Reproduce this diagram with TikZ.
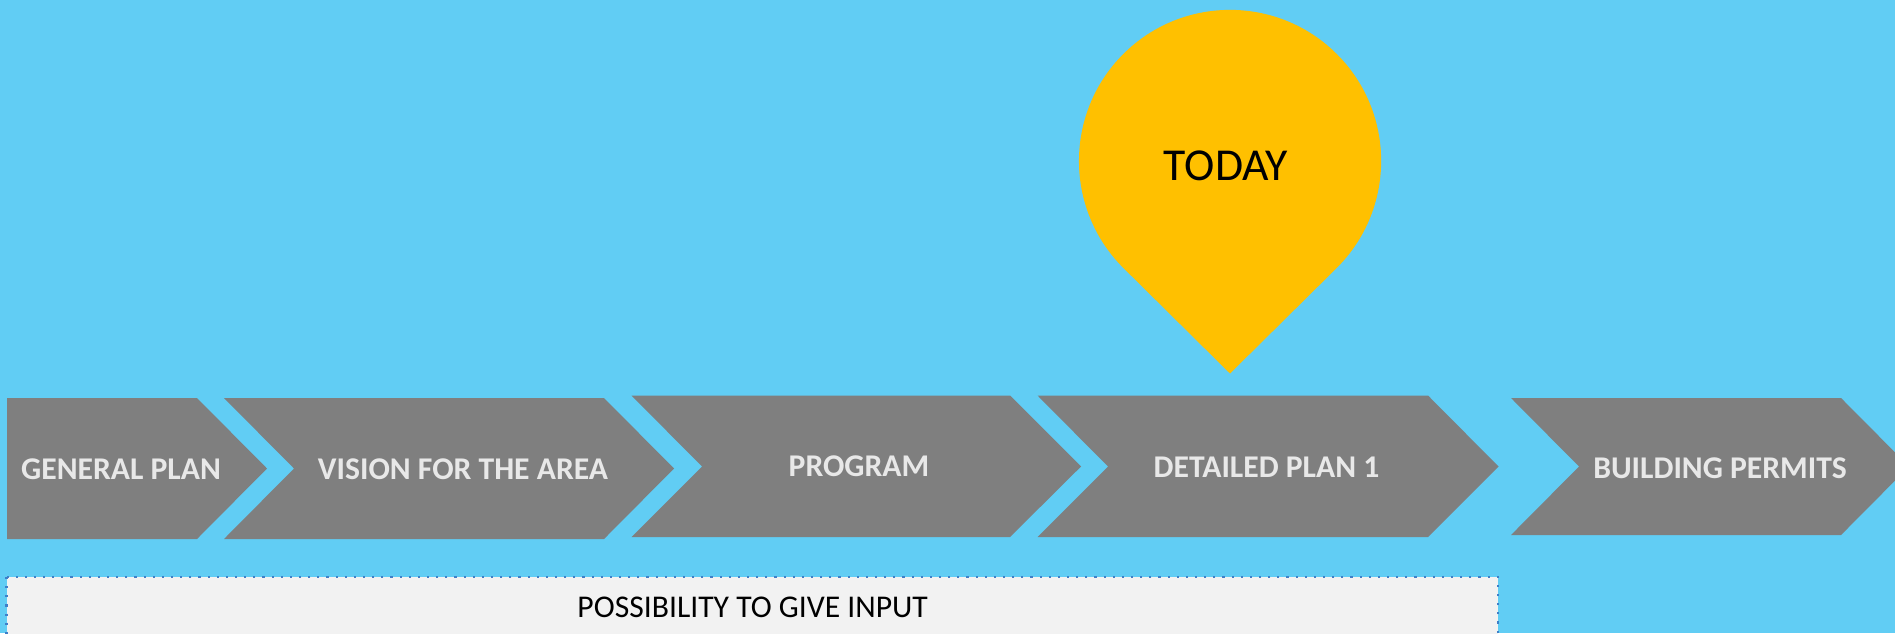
\documentclass[tikz,border=0pt]{standalone}
\usepackage{fontspec}
\setmainfont{Carlito}
\definecolor{sky}{HTML}{61CDF4}
\definecolor{chev}{HTML}{7F7F7F}
\definecolor{chevtext}{HTML}{E8E8E8}
\definecolor{pinyellow}{HTML}{FFC000}
\definecolor{inbox}{HTML}{F2F2F2}
\definecolor{inborder}{HTML}{3F7FC8}
\tikzset{
  chevfill/.style={fill=chev},
  chevlabel/.style={anchor=base, text=chevtext, font=\fontsize{9}{11}\selectfont\bfseries, inner sep=0pt},
  pinlabel/.style={anchor=base, text=black, font=\fontsize{13}{15}\selectfont, inner sep=0pt},
  inputlabel/.style={anchor=base, text=black, font=\fontsize{9}{11}\selectfont, inner sep=0pt}
}
\begin{document}
\begin{tikzpicture}[x=0.01cm, y=-0.01cm]
\useasboundingbox (0,0) rectangle (1895,633);
\clip (0,0) rectangle (1895,633);
\fill[sky] (0,0) rectangle (1895,633);

% chevrons
\fill[chevfill] (7,398) -- (197,398) -- (267,468.5) -- (197,539) -- (7,539) -- cycle;
\fill[chevfill] (224,398) -- (604,398) -- (674,468.5) -- (604,539) -- (224,539) -- (294,468.5) -- cycle;
\fill[chevfill] (631.5,395.5) -- (1010,395.5) -- (1081,466.5) -- (1010,537) -- (631.5,537) -- (702,466.5) -- cycle;
\fill[chevfill] (1037.5,395.5) -- (1428,395.5) -- (1498.5,466.5) -- (1428,537) -- (1037.5,537) -- (1108,466.5) -- cycle;
\fill[chevfill] (1511,398) -- (1841,398) -- (1909,466.5) -- (1841,535) -- (1511,535) -- (1579,466.5) -- cycle;

\node[chevlabel] (gp) at (121,479.3) {GENERAL PLAN};
\node[chevlabel] (vis) at (463,479) {VISION FOR THE AREA};
\node[chevlabel] (prog) at (859,476.7) {PROGRAM};
\node[chevlabel] (dp) at (1266.5,477.3) {DETAILED PLAN 1};
\node[chevlabel] (bp) at (1720,478) {BUILDING PERMITS};

% location pin
\fill[pinyellow] (1230,373.5) -- (1123.2,267.8) arc[start angle=225, end angle=-45, radius=1.51cm] -- cycle;
\node[pinlabel] (today) at (1226,180) {TODAY};

% input box
\filldraw[fill=inbox, draw=inborder, dotted, line width=0.6pt] (6.5,577) rectangle (1498,650);
\node[inputlabel] (input) at (752.7,617.7) {POSSIBILITY TO GIVE INPUT};
\end{tikzpicture}
\end{document}
